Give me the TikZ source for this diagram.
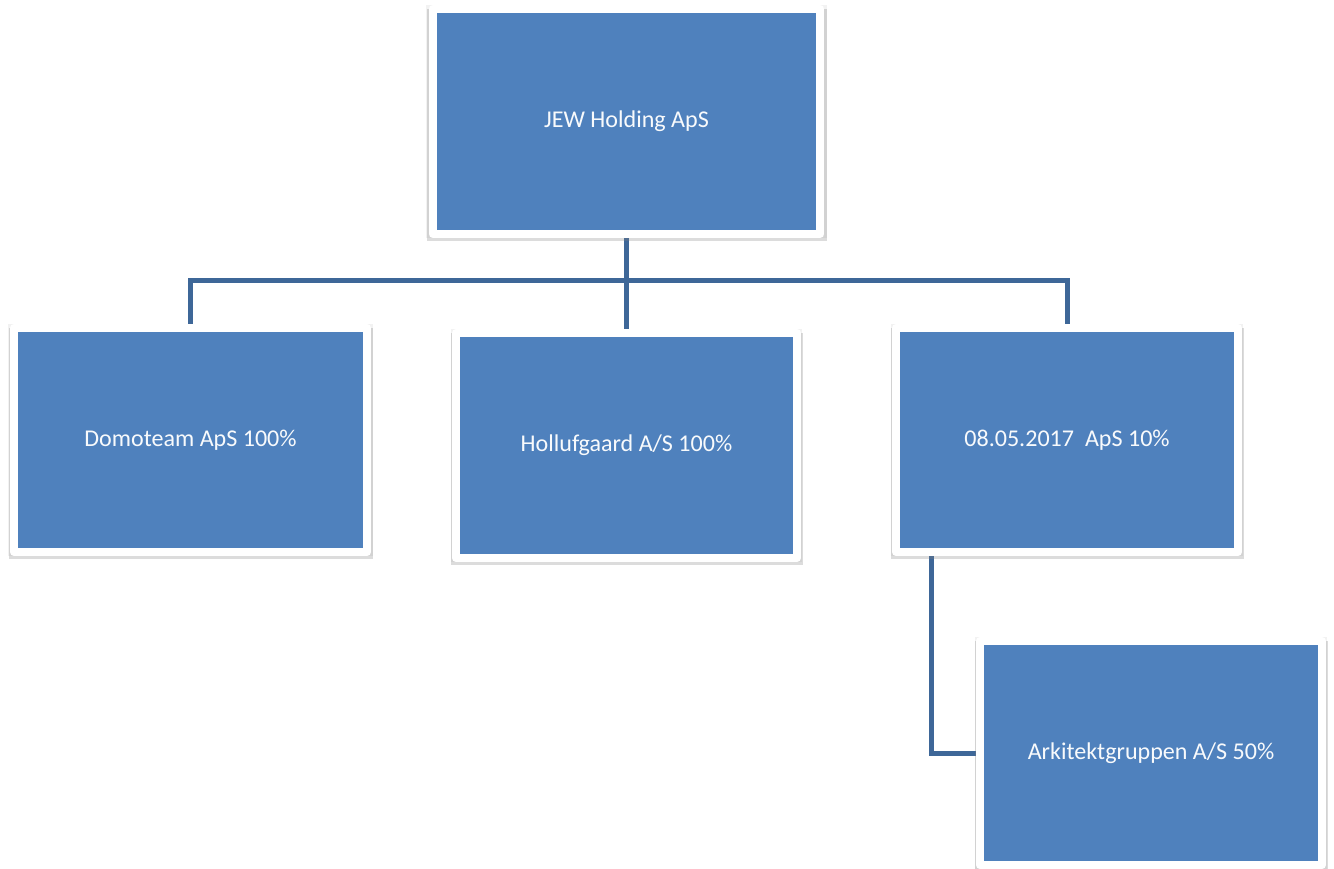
\documentclass[tikz,border=0pt]{standalone}
\usepackage{fontspec}
\setmainfont{Carlito}
\usepackage{xcolor}
\usepackage{tikz}
\usetikzlibrary{positioning,shadows,backgrounds}

\definecolor{unitblue}{HTML}{4F81BD}
\definecolor{linkblue}{HTML}{3E6798}

\begin{document}
\begin{tikzpicture}[
  x=0.02cm, y=0.02cm,
  unit/.style={draw=white, fill=unitblue, line width=0.16cm, line join=round, outer sep=0pt,
    minimum width=6.84cm, minimum height=4.48cm, text=white!96!unitblue,
    font=\fontsize{13.7}{16}\selectfont,
    drop shadow={opacity=0.10, shadow xshift=0cm, shadow yshift=0cm, shadow scale=1.032, rounded corners=0.08cm},
    drop shadow={opacity=0.28, shadow xshift=0.01cm, shadow yshift=-0.07cm, shadow scale=1.03, rounded corners=0.08cm}},
  link/.style={draw=linkblue, line width=0.1cm}
]
\useasboundingbox (0,0) rectangle (1334,-868);

\node[unit, minimum width=7.76cm, minimum height=4.5cm] (top) at (626.5,-121.5) {JEW Holding ApS};
\node[unit, minimum width=7.06cm] (domo) at (190.5,-440) {Domoteam ApS 100\%};
\node[unit, minimum width=6.82cm, minimum height=4.5cm] (holl) at (626.5,-445.5) {Hollufgaard A/S 100\%};
\node[unit] (sub) at (1067,-440) {08.05.2017\ \ ApS 10\%};
\node[unit] (ark) at (1151,-753) {Arkitektgruppen A/S 50\%};

\coordinate (bus) at (0,-280);
\coordinate (drop) at (931,-600);

\begin{scope}[on background layer]
\draw[link] (top.south) -- (holl.north);
\draw[link] (domo.north) -- (domo.north |- bus) -| (sub.north);
\draw[link] (sub.south -| drop) |- (ark.west);
\end{scope}
\end{tikzpicture}
\end{document}
